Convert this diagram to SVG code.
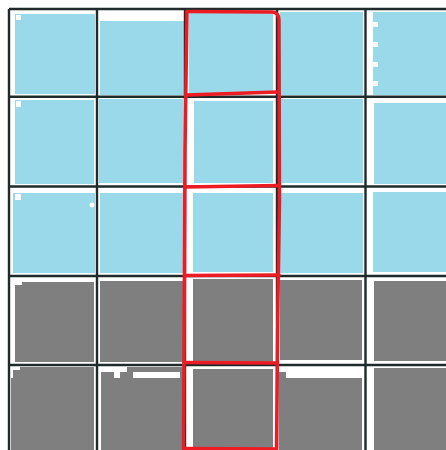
<svg xmlns="http://www.w3.org/2000/svg" width="446" height="450" viewBox="0 0 446 450">
<style>
.b{fill:#99D9EA}
.g{fill:#7F7F7F}
.w{fill:#FFFFFF}
.grid{stroke:#1f2b2b;stroke-width:2.4;fill:none}
.hl{stroke:#ED1C24;stroke-width:3.5;fill:none;stroke-linecap:round;stroke-linejoin:round}
</style>
<rect width="446" height="450" fill="#FFFFFF"/>
<g id="cells">
<g id="c00"><rect class="b" x="15" y="14" width="80" height="80"/><rect class="w" x="16" y="15" width="5" height="5"/></g>
<g id="c10"><rect class="b" x="100" y="21" width="84" height="74"/></g>
<g id="c20"><rect class="b" x="189" y="13" width="84" height="80"/></g>
<g id="c30"><rect class="b" x="280" y="12" width="83" height="83"/></g>
<g id="c40"><rect class="b" x="373" y="12" width="73" height="83"/><rect class="w" x="373" y="22" width="5" height="5"/><rect class="w" x="373" y="42" width="5" height="5"/><rect class="w" x="373" y="62" width="5" height="5"/><rect class="w" x="373" y="81" width="5" height="5"/></g>

<g id="c01"><rect class="b" x="15" y="100" width="79" height="84"/><rect class="w" x="16" y="101" width="5" height="6"/></g>
<g id="c11"><rect class="b" x="99" y="99" width="84" height="84"/></g>
<g id="c21"><rect class="b" x="194" y="101" width="79" height="82"/></g>
<g id="c31"><rect class="b" x="280" y="99" width="83" height="84"/></g>
<g id="c41"><rect class="b" x="374" y="103" width="72" height="81"/></g>

<g id="c02"><rect class="b" x="13" y="193" width="82" height="80"/><rect class="w" x="15" y="194" width="6" height="6"/><circle class="w" cx="92" cy="205" r="2.5"/></g>
<g id="c12"><rect class="b" x="100" y="193" width="84" height="80"/></g>
<g id="c22"><rect class="b" x="193" y="193" width="80" height="79"/></g>
<g id="c32"><rect class="b" x="280" y="193" width="83" height="80"/></g>
<g id="c42"><rect class="b" x="373" y="192" width="73" height="80"/></g>

<g id="c03"><rect class="g" x="15" y="282" width="79" height="80"/><rect class="w" x="15" y="282" width="7" height="3"/></g>
<g id="c13"><rect class="g" x="100" y="281" width="84" height="81"/></g>
<g id="c23"><rect class="g" x="193" y="279" width="80" height="83"/></g>
<g id="c33"><rect class="g" x="280" y="280" width="82" height="80"/></g>
<g id="c43"><rect class="g" x="374" y="281" width="72" height="80"/></g>

<g id="c04"><rect class="g" x="11" y="367" width="83" height="83"/><rect class="w" x="11" y="367" width="9" height="3"/><rect class="w" x="11" y="367" width="2" height="11"/></g>
<g id="c14"><rect class="g" x="101" y="367" width="83" height="83"/><rect class="w" x="101" y="367" width="26" height="5"/><rect class="w" x="114" y="372" width="6" height="6"/><rect class="w" x="133" y="372" width="47" height="6"/></g>
<g id="c24"><rect class="g" x="193" y="369" width="80" height="81"/></g>
<g id="c34"><rect class="g" x="279" y="368" width="83" height="82"/><rect class="w" x="279" y="368" width="83" height="4"/><rect class="w" x="286" y="368" width="76" height="10"/></g>
<g id="c44"><rect class="g" x="374" y="368" width="72" height="82"/></g>
</g>
<g id="connectors">
<path class="grid" d="M9,9V450M97,9V450M185,9V450M277,9V450M365.5,9V450M9,9H446M9,96.7H446M9,186.5H446M9,276H446M9,365H446"/>
</g>
<g id="highlight">
<path class="hl" d="M187,11.5L185,150L184.3,300L183.5,449"/>
<path class="hl" d="M187,11.5L272,12Q279,12.5 279,20L279.5,200L278,300L276.5,449"/>
<path class="hl" d="M186,95L278,92"/>
<path class="hl" d="M185,187L279,185.5"/>
<path class="hl" d="M184.5,275.5L279,275"/>
<path class="hl" d="M184,362.5L277.5,363"/>
<path class="hl" d="M184,448.5L276,449"/>
</g>
</svg>
